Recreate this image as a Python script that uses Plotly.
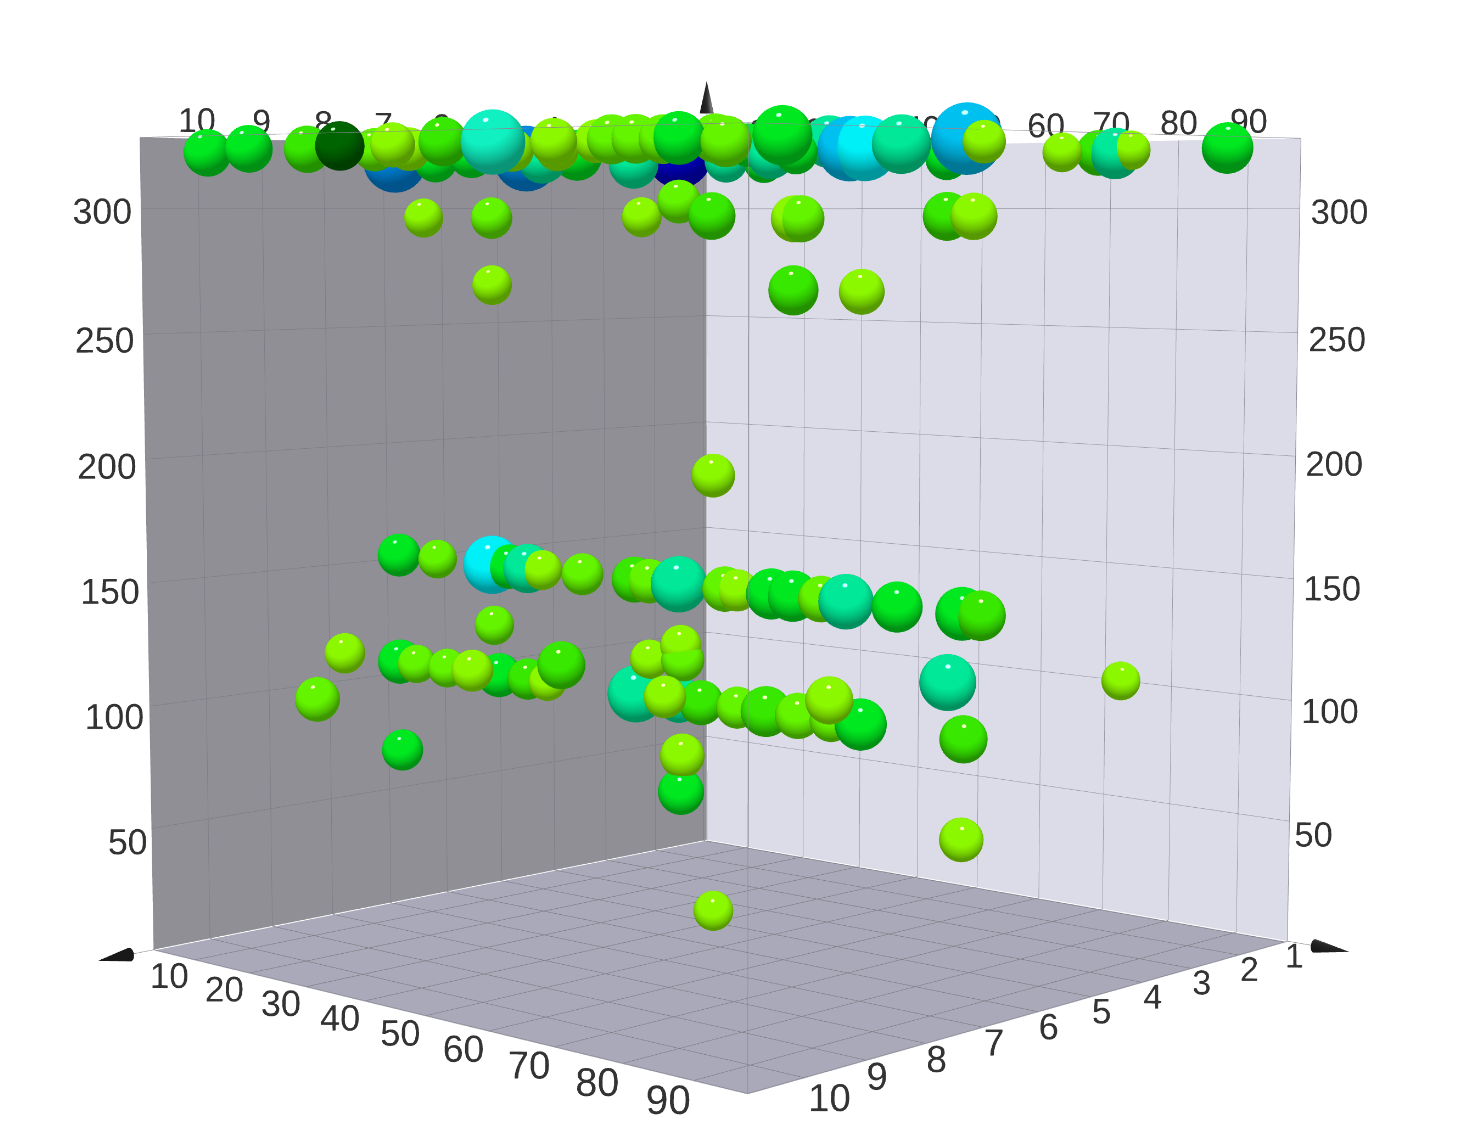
import numpy as np
import plotly.graph_objects as go

# window is 1466x1136, plotly's fov is fixed, so the plot is drawn big and shifted
FIG_W, FIG_H = 3592, 2783
OFF_X, OFF_Y = 1072, 845

A_RANGE = [2.2, 97.3]
B_RANGE = [0.93, 10.87]
Z_RANGE = [0, 328]
PAD = 1.4  # scene is bigger than the box, otherwise labels and balls get clipped

a_ticks = [10, 20, 30, 40, 50, 60, 70, 80, 90]
b_ticks = [1, 2, 3, 4, 5, 6, 7, 8, 9, 10]
z_ticks = [50, 100, 150, 200, 250, 300]
a_font = [32, 32, 33, 33, 33, 34, 35, 36, 37]
b_font = [31, 31, 31, 31, 32, 33, 34, 34, 35, 35]

palette = ["#0000d0", "#0088e0", "#00c0f0", "#00f0f8", "#10f0c0", "#00e898",
           "#00e820", "#38e800", "#64f400", "#8cf800", "#006400"]

# top row
a_top = [4.0, 11.6, 10.6, 27.6, 22.5, 4.3, 36.5, 28.4, 22.3, 44.7, 28.5, 52.6, 17.6, 40.3, 45.5,
         61.9, 52.6, 36.2, 58.6, 70.5, 36.0, 74.0, 77.9, 34.3, 80.1, 76.2, 86.6, 59.9, 72.0, 75.3,
         65.6, 78.9, 94.2, 75.2, 86.4, 88.5, 93.4, 76.0, 86.6, 96.6, 92.2, 90.0, 92.3, 94.4, 94.1]
b_top = [10, 10, 9, 10, 9, 7, 10, 9, 8, 10, 8, 10, 6, 8, 9,
         10, 9, 7, 9, 10, 6, 10, 10, 5, 10, 9, 10, 7, 8, 8,
         7, 8, 10, 7, 8, 8, 8, 5, 6, 7, 5, 4, 4, 4, 2]
z_top = [322.2, 323.5, 323.8, 323.9, 323.1, 320.1, 323.9, 323.1, 319.3, 324.7, 321.2, 324.2, 320.9, 319.3, 322.0,
         323.9, 322.0, 321.2, 324.7, 324.3, 318.2, 324.3, 324.0, 322.0, 324.3, 324.9, 322.8, 318.2, 323.1, 319.3,
         317.1, 320.1, 324.5, 324.7, 321.2, 321.2, 322.5, 319.3, 325.8, 323.7, 320.9, 321.2, 320.9, 322.0, 323.8]
r_top = [29, 28.7, 29, 29, 26, 41, 26, 26, 27, 28, 28, 36.5, 42, 29.5, 25,
         26, 25, 31, 24.6, 27, 31, 26.6, 26.4, 41.5, 28.4, 27, 27, 25.5, 24.4, 26.5,
         23, 24, 31, 30, 35.6, 35.5, 32, 25.7, 41, 23.8, 22.7, 26.7, 30, 23, 31]
c_top = [6, 6, 7, 10, 8, 1, 9, 9, 6, 7, 6, 4, 1, 5, 9,
         9, 9, 6, 9, 8, 5, 8, 8, 0, 6, 8, 8, 5, 6, 5,
         6, 6, 6, 5, 2, 3, 5, 6, 2, 9, 9, 7, 5, 9, 6]

# rows near 296 and 269
a_high = [9.5, 21.6, 46.7, 52.6, 57.7, 70.1, 71.1, 91.7, 95.3, 21.6, 70.0, 79.9, 57.9]
b_high = [7, 7, 7, 7, 7, 7, 7, 7, 7, 7, 7, 7, 7]
z_high = [296, 296, 296.5, 302.6, 297, 296, 296, 297, 297, 268.5, 269, 269, 196.3]
r_high = [25, 26, 24, 26, 28, 27, 27, 27, 26, 25, 29, 26, 26]
c_high = [9, 8, 9, 8, 7, 9, 8, 7, 9, 9, 7, 9, 9]

# row at 150
a_mid = [4.4, 11.5, 21.3, 24.3, 27.5, 30.0, 36.8, 45.4, 47.8, 52.5, 59.7, 61.6, 66.8, 70.0, 74.2, 77.8, 85.1, 94.1, 96.6]
b_mid = [7] * 19
z_mid = [152.3] * 19
r_mid = [28, 25, 37, 28, 31, 25, 26, 28, 27, 34, 27, 25, 30, 30, 27, 32, 29, 30, 28]
c_mid = [6, 8, 3, 6, 5, 9, 8, 7, 8, 5, 8, 9, 6, 6, 8, 5, 6, 6, 7]

# row at 106 with the ones around it
a_low = [4.4, 7.5, 13.1, 28.0, 22.4, 27.4, 30.8, 43.0, 45.6, 59.5, 52.5, 56.0, 61.6, 66.0, 70.8, 83.8, 75.7, 80.0,
         21.6, 5.1, 11.2, 4.7, 52.8, 53.1, 47.8, 53.0, 52.8, 57.9, 94.2, 94.4, 92.2, 93.9]
b_low = [7, 7, 7, 8, 7, 7, 7, 8, 7, 8, 7, 7, 7, 7, 7, 8, 7, 7,
         7, 8, 9, 7, 7, 7, 7, 7, 7, 7, 7, 7, 7, 4]
z_low = [106.3, 106.3, 106.3, 113.3, 106.3, 106.3, 106.3, 120.3, 106.3, 113.3, 106.3, 106.3, 106.3, 106.3, 106.3, 120.3, 106.3, 106.3,
         127, 113.3, 99.3, 68, 128, 122.3, 121, 84, 69.5, 24, 68.5, 106, 126.3, 117.3]
r_low = [29, 25, 25, 26, 28, 26, 24, 29, 35, 25, 28, 27, 25, 30, 27, 27, 25, 30,
         25, 26, 28, 27, 25, 26, 24, 27, 28, 24, 25, 27, 32, 23]
c_low = [6, 8, 8, 9, 6, 7, 9, 7, 5, 9, 5, 7, 8, 7, 8, 9, 8, 6,
         8, 9, 8, 6, 9, 8, 9, 9, 6, 9, 9, 7, 5, 9]

a_vals = a_top + a_high + a_mid + a_low
b_vals = b_top + b_high + b_mid + b_low
z_vals = z_top + z_high + z_mid + z_low
radius = r_top + r_high + r_mid + r_low
shade = c_top + c_high + c_mid + c_low

B0, B1 = B_RANGE
A0, A1 = A_RANGE
Z0, Z1 = Z_RANGE
B_SPAN, A_SPAN, Z_SPAN = B1 - B0, A1 - A0, Z1 - Z0


def sphere_mesh():
    # one mesh with all the balls, sized in unit cube terms so they stay round
    n_lat, n_lon = 20, 30
    th = np.linspace(0, np.pi, n_lat + 1)
    ph = np.linspace(0, 2 * np.pi, n_lon, endpoint=False)
    tt, pp = np.meshgrid(th, ph, indexing="ij")
    ux, uy, uz = (np.sin(tt) * np.cos(pp)).ravel(), (np.sin(tt) * np.sin(pp)).ravel(), np.cos(tt).ravel()
    ii, jj, kk = [], [], []
    for la in range(n_lat):
        for lo in range(n_lon):
            p0 = la * n_lon + lo
            p1 = la * n_lon + (lo + 1) % n_lon
            p2 = p0 + n_lon
            p3 = p1 + n_lon
            ii += [p0, p1]
            jj += [p2, p2]
            kk += [p1, p3]
    ii, jj, kk = np.array(ii), np.array(jj), np.array(kk)
    nv = ux.size
    xs, ys, zs, cols, fi, fj, fk = [], [], [], [], [], [], []
    for n in range(len(a_vals)):
        r = radius[n] / 1000
        xs.append(b_vals[n] + ux * r * B_SPAN)
        ys.append(a_vals[n] + uy * r * A_SPAN)
        zs.append(z_vals[n] + uz * r * Z_SPAN)
        cols += [palette[shade[n]]] * nv
        fi.append(ii + n * nv)
        fj.append(jj + n * nv)
        fk.append(kk + n * nv)
    return (np.concatenate(xs), np.concatenate(ys), np.concatenate(zs), cols,
            np.concatenate(fi), np.concatenate(fj), np.concatenate(fk))


def wall(xs, ys, zs, color):
    return go.Mesh3d(x=xs, y=ys, z=zs, i=[0, 0], j=[1, 2], k=[2, 3], color=color, hoverinfo="skip",
                     lighting=dict(ambient=1, diffuse=0, specular=0, roughness=1, fresnel=0))


def segments(pairs, color):
    xs, ys, zs = [], [], []
    for p, q in pairs:
        xs += [p[0], q[0], None]
        ys += [p[1], q[1], None]
        zs += [p[2], q[2], None]
    return go.Scatter3d(x=xs, y=ys, z=zs, mode="lines", line=dict(color=color, width=1), hoverinfo="skip")


def cone(base, tip, rad):
    # arrow head, rad in unit cube terms
    base, tip = np.array(base, float), np.array(tip, float)
    spans = np.array([B_SPAN, A_SPAN, Z_SPAN])
    d = (tip - base) / spans
    d /= np.linalg.norm(d)
    e1 = np.cross(d, [0, 0, 1]) if abs(d[2]) < 0.9 else np.cross(d, [1, 0, 0])
    e1 /= np.linalg.norm(e1)
    e2 = np.cross(d, e1)
    ang = np.linspace(0, 2 * np.pi, 24, endpoint=False)
    ring = np.array([base + (np.cos(t) * e1 + np.sin(t) * e2) * rad * spans for t in ang])
    pts = np.vstack([ring, tip, base])
    n = len(ang)
    i = list(range(n)) * 2
    j = [(m + 1) % n for m in range(n)] * 2
    k = [n] * n + [n + 1] * n
    return go.Mesh3d(x=pts[:, 0], y=pts[:, 1], z=pts[:, 2], i=i, j=j, k=k, color="#2a2a2a", hoverinfo="skip",
                     lighting=dict(ambient=0.6, diffuse=0.6, specular=0.3, roughness=0.3))


def labels(xs, ys, zs, texts, sizes):
    return go.Scatter3d(x=xs, y=ys, z=zs, mode="text", text=[str(t) for t in texts], textposition="middle center",
                        textfont=dict(family="Liberation Sans", size=sizes, color="#333333"), hoverinfo="skip")


fig = go.Figure()

# walls and floor sit a hair behind their grid
eps_a, eps_b, eps_z = A_SPAN * 0.001, B_SPAN * 0.001, Z_SPAN * 0.001
fig.add_trace(wall([B0 - eps_b] * 4, [A0, A1, A1, A0], [Z0, Z0, Z1, Z1], "#dcdce8"))
fig.add_trace(wall([B0, B1, B1, B0], [A0 - eps_a] * 4, [Z0, Z0, Z1, Z1], "#8f8f95"))
fig.add_trace(wall([B0, B1, B1, B0], [A0, A0, A1, A1], [Z0 - eps_z] * 4, "#a9a9b9"))

grid_dark, grid_light = [], []
for t in b_ticks:
    grid_dark.append(((t, A0, Z0), (t, A0, Z1)))
    grid_dark.append(((t, A0, Z0), (t, A1, Z0)))
for t in a_ticks:
    grid_light.append(((B0, t, Z0), (B0, t, Z1)))
    grid_dark.append(((B0, t, Z0), (B1, t, Z0)))
for t in z_ticks:
    grid_dark.append(((B0, A0, t), (B1, A0, t)))
    grid_light.append(((B0, A0, t), (B0, A1, t)))
fig.add_trace(segments(grid_dark, "#7d7d85"))
fig.add_trace(segments(grid_light, "#9a9aa6"))

edges = [((B1, A1, Z0), (B1, A1, Z1)), ((B1, A0, Z1), (B1, A1, Z1)), ((B0, A1, Z1), (B1, A1, Z1)),
         ((B1, A0, Z0), (B1, A1, Z0)), ((B0, A1, Z0), (B1, A1, Z0)), ((B0, A0, Z0), (B0, A0, Z1)),
         ((B1, A0, Z0), (B1, A0, Z1)), ((B0, A1, Z0), (B0, A1, Z1)),
         ((B1, A0, Z0), (B1 + 0.037 * B_SPAN, A0, Z0)), ((B0, A1, Z0), (B0, A1 + 0.04 * A_SPAN, Z0)),
         ((B0, A0, Z1), (B0, A0, Z1 + 0.05 * Z_SPAN))]
fig.add_trace(segments(edges, "#8a8a92"))

mx, my, mz, mc, mi, mj, mk = sphere_mesh()
fig.add_trace(go.Mesh3d(x=mx, y=my, z=mz, i=mi, j=mj, k=mk, vertexcolor=mc, hoverinfo="skip",
                        flatshading=False,
                        lighting=dict(ambient=0.62, diffuse=0.55, specular=0.8, roughness=0.04, fresnel=0.05),
                        lightposition=dict(x=3000, y=2800, z=100)))

# axis arrows
fig.add_trace(cone((B1 + 0.037 * B_SPAN, A0, Z0), (B1 + 0.085 * B_SPAN, A0, Z0), 0.0085))
fig.add_trace(cone((B0, A1 + 0.04 * A_SPAN, Z0), (B0, A1 + 0.091 * A_SPAN, Z0), 0.0085))
fig.add_trace(cone((B0, A0, Z1 + 0.05 * Z_SPAN), (B0, A0, Z1 + 0.096 * Z_SPAN), 0.01))

# tick labels on the floor, both z sides and along the top
fig.add_trace(labels([B1 + 0.39] * 9, a_ticks, [-4.2] * 9, a_ticks, a_font))
fig.add_trace(labels(b_ticks, [A1 + 1.5] * 9 + [A1 + 3.5], [-4.8] * 10, b_ticks, b_font))
fig.add_trace(labels([B1 + o for o in [0.37, 0.53, 0.56, 0.58, 0.58, 0.58]], [A0] * 6,
                     [t + o for t, o in zip(z_ticks, [-3.7, -2.2, -1.7, -1.7, -1.7, -1])], z_ticks, 32.5))
fig.add_trace(labels([B0] * 6, [A1 + o for o in [3.4, 5.4, 5.4, 5.3, 5.4, 5.4]],
                     [t + o for t, o in zip(z_ticks, [-3.9, -2.4, -2.4, -2, -2, -1.2])], z_ticks, 31.5))
fig.add_trace(labels(b_ticks, [A0] * 10, [Z1 + 7.5] * 10, b_ticks, 31))
fig.add_trace(labels([B0] * 9, a_ticks, [Z1 + 7.5] * 9, a_ticks, 31))

hidden = dict(visible=False, showspikes=False)
fig.update_layout(
    width=FIG_W, height=FIG_H, autosize=False, showlegend=False,
    margin=dict(l=0, r=0, t=0, b=0), paper_bgcolor="white",
    scene=dict(
        domain=dict(x=[0, 1], y=[0, 1]),
        aspectmode="manual", aspectratio=dict(x=PAD, y=PAD, z=PAD),
        camera=dict(eye=dict(x=3.013, y=2.81, z=0.411), center=dict(x=0, y=0, z=0), up=dict(x=0, y=0, z=1)),
        xaxis=dict(hidden, range=[(B0 + B1) / 2 - B_SPAN * PAD / 2, (B0 + B1) / 2 + B_SPAN * PAD / 2]),
        yaxis=dict(hidden, range=[(A0 + A1) / 2 - A_SPAN * PAD / 2, (A0 + A1) / 2 + A_SPAN * PAD / 2]),
        zaxis=dict(hidden, range=[(Z0 + Z1) / 2 - Z_SPAN * PAD / 2, (Z0 + Z1) / 2 + Z_SPAN * PAD / 2]),
    ),
)

shift = ("var gd=document.getElementById('{plot_id}');"
         "gd.style.position='fixed';gd.style.left='-%dpx';gd.style.top='-%dpx';"
         "document.documentElement.style.overflow='hidden';document.body.style.overflow='hidden';" % (OFF_X, OFF_Y))
fig.write_html("out.html", config=dict(displayModeBar=False), post_script=shift)
